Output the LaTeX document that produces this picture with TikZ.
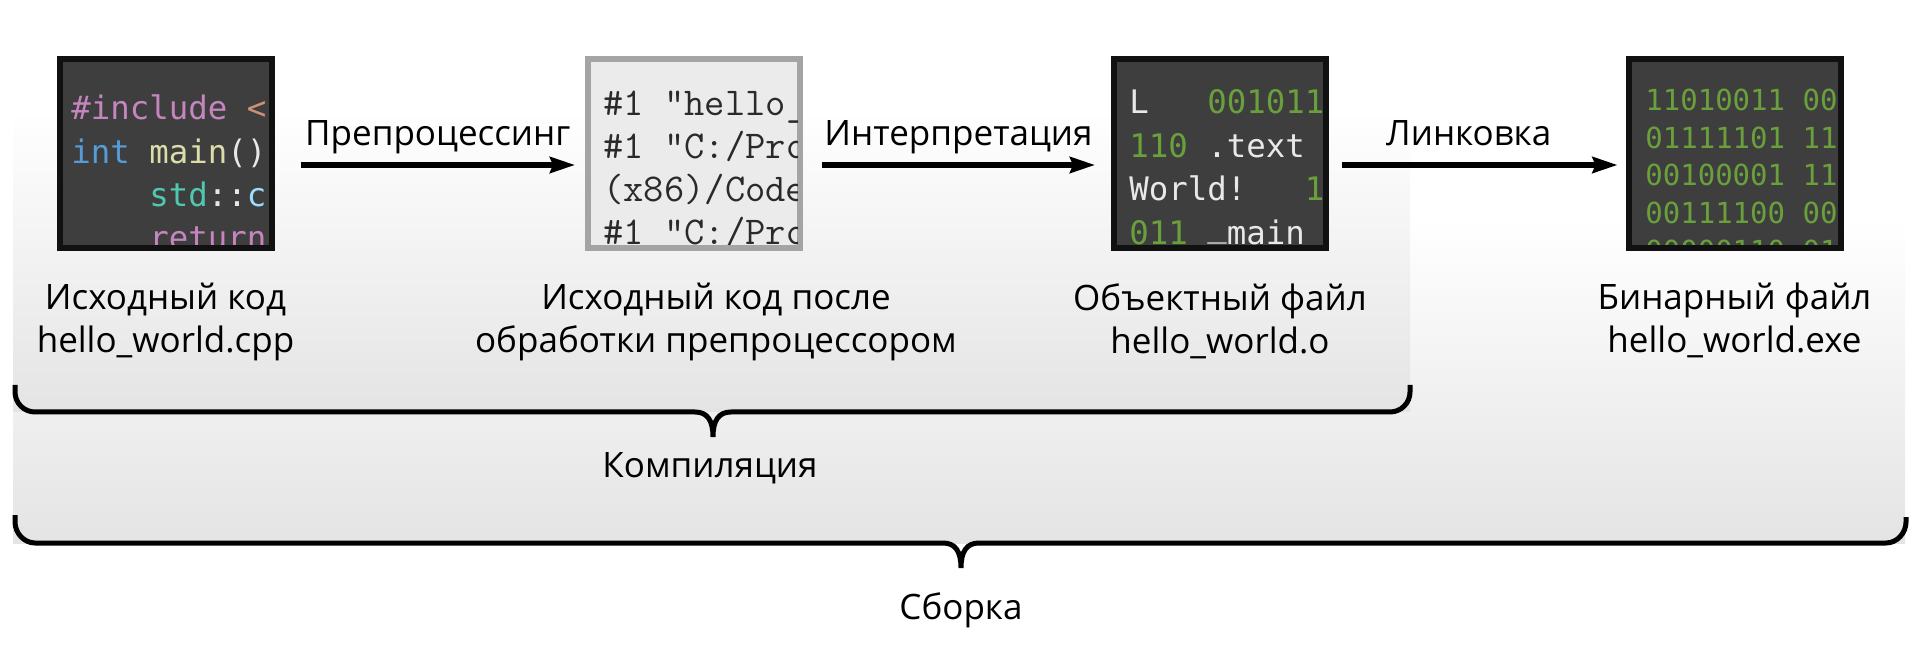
\documentclass[tikz,border=0pt]{standalone}
\usepackage{fontspec}
\setmainfont{Open Sans}
\newfontfamily\codefont{DejaVu Sans Mono}
\usetikzlibrary{positioning,arrows.meta}

\definecolor{boxdark}{HTML}{3E3E3E}
\definecolor{boxrim}{HTML}{111111}
\definecolor{boxlight}{HTML}{EBEBEB}
\definecolor{boxgrey}{HTML}{A4A4A4}
\definecolor{pptext}{HTML}{2A2A2A}
\definecolor{codepurple}{HTML}{C586C0}
\definecolor{codeorange}{HTML}{CE9178}
\definecolor{codeblue}{HTML}{569CD6}
\definecolor{codeyellow}{HTML}{DCDCAA}
\definecolor{codeteal}{HTML}{4EC9B0}
\definecolor{codesky}{HTML}{9CDCFE}
\definecolor{codewhite}{HTML}{E8E8E8}
\definecolor{bitgreen}{HTML}{6AA03C}
\definecolor{regiongrey}{HTML}{E4E4E4}

\begin{document}
\begin{tikzpicture}[x    = 0.5pt,
                    y    = -0.5pt,
                    font = \fontsize{17.5pt}{21.5pt}\selectfont]
% styles
\tikzset{filebox/.style={minimum width=106pt,minimum height=94.5pt,line width=3pt,inner sep=0pt},
         darkbox/.style={filebox,draw=boxrim,fill=boxdark},
         lightbox/.style={filebox,draw=boxgrey,fill=boxlight},
         caption/.style={align=center,inner sep=0pt},
         flowarrow/.style={line width=2.6pt,-{Stealth[length=12.5pt,width=8pt,inset=1.5pt]}},
         steplabel/.style={above=2pt,inner sep=2pt,text height=12.5pt,text depth=4.5pt},
         bracestyle/.style={line width=2.5pt},
         codeline/.style={anchor=base west,inner sep=0pt},
         srccode/.style={codeline,font=\codefont\fontsize{16.2pt}{16pt}\selectfont},
         ppcode/.style={codeline,text=pptext,font=\ttfamily\fontsize{19.7pt}{19pt}\selectfont},
         bitcode/.style={codeline,text=bitgreen,font=\codefont\fontsize{14.5pt}{14pt}\selectfont}}
\useasboundingbox (0,0) rectangle (1920,651);
% shaded areas "build" and "compilation"
\shade[top color=white,bottom color=regiongrey] (13,220) rectangle (1905,543);
\shade[top color=white,bottom color=regiongrey] (13,110) rectangle (1410,412);
% files
\node[darkbox]  (src) at (165.5,153.5) {};
\node[lightbox] (pre) at (694,153.5)   {};
\node[darkbox]  (obj) at (1220,153.5)  {};
\node[darkbox]  (bin) at (1734.5,153.5) {};
% file "source"
\begin{scope}
  \clip ([shift={(3pt,-3pt)}]src.north west) rectangle ([shift={(-3pt,3pt)}]src.south east);
  \node[srccode] (src1) at (71,120) {\color{codepurple}\#include \color{codeorange}<};
  \node[srccode] (src2) at (71,164) {\color{codeblue}int \color{codeyellow}main\color{codewhite}()};
  \node[srccode] (src3) at (71,207) {\ \ \ \ \color{codeteal}std\color{codewhite}::\color{codesky}c};
  \node[srccode] (src4) at (71,250) {\ \ \ \ \color{codepurple}return};
\end{scope}
% file "preprocessed"
\begin{scope}
  \clip ([shift={(3pt,-3pt)}]pre.north west) rectangle ([shift={(-3pt,3pt)}]pre.south east);
  \node[ppcode] (pre1) at (603,116) {\#1 "hello\_};
  \node[ppcode] (pre2) at (603,159) {\#1 "C:/Pro};
  \node[ppcode] (pre3) at (603,202) {(x86)/Code};
  \node[ppcode] (pre4) at (603,245) {\#1 "C:/Pro};
\end{scope}
% file "object"
\begin{scope}
  \clip ([shift={(3pt,-3pt)}]obj.north west) rectangle ([shift={(-3pt,3pt)}]obj.south east);
  \node[srccode] (obj1) at (1129,114)   {\color{codewhite}L\ \ \ \color{bitgreen}001011};
  \node[srccode] (obj2) at (1129,157.5) {\color{bitgreen}110 \color{codewhite}.text};
  \node[srccode] (obj3) at (1129,201)   {\color{codewhite}World!\ \ \ \color{bitgreen}1};
  \node[srccode] (obj4) at (1129,244.5) {\color{bitgreen}011 \color{codewhite}\raisebox{4pt}{\_}main};
\end{scope}
% file "binary"
\begin{scope}
  \clip ([shift={(3pt,-3pt)}]bin.north west) rectangle ([shift={(-3pt,3pt)}]bin.south east);
  \node[bitcode] (bin1) at (1645,110.6) {11010011 00};
  \node[bitcode] (bin2) at (1645,148.3) {01111101 11};
  \node[bitcode] (bin3) at (1645,186)   {00100001 11};
  \node[bitcode] (bin4) at (1645,223.7) {00111100 00};
  \node[bitcode] (bin5) at (1645,261.4) {00000110 01};
\end{scope}
% captions
\node[caption,below=16pt of src] (srccap) {Исходный код\\hello\_world.cpp};
\node[caption,below=16pt of pre,xshift=11pt] (precap) {Исходный код после\\обработки препроцессором};
\node[caption,below=16pt of obj] (objcap) {Объектный файл\\hello\_world.o};
\node[caption,below=16pt of bin] (bincap) {Бинарный файл\\hello\_world.exe};
% steps
\draw[flowarrow] ([xshift=13pt,yshift=-5.75pt]src.east) -- node[steplabel] {Препроцессинг}
                 ([xshift=-5pt,yshift=-5.75pt]pre.west);
\draw[flowarrow] ([xshift=9.5pt,yshift=-5.75pt]pre.east) -- node[steplabel] {Интерпретация}
                 ([xshift=-8pt,yshift=-5.75pt]obj.west);
\draw[flowarrow] ([xshift=6.5pt,yshift=-5.75pt]obj.east) -- node[steplabel,pos=.46] {Линковка}
                 ([xshift=-4pt,yshift=-5.75pt]bin.west);
% brace "compilation"
\draw[bracestyle] (15,385) -- (15,392) .. controls (15,403) and (24,412) .. (35,412)
  -- (695,412) .. controls (707,412) and (713,420) .. (713,437)
  .. controls (713,420) and (719,412) .. (731,412)
  -- (1390,412) .. controls (1401,412) and (1410,403) .. (1410,392) -- (1410,385);
\node[anchor=base] (complabel) at (710,477.5) {Компиляция};
% brace "build"
\draw[bracestyle] (15,515) -- (15,522) .. controls (15,533) and (24,543) .. (35,543)
  -- (943,543) .. controls (955,543) and (961,551) .. (961,568)
  .. controls (961,551) and (967,543) .. (979,543)
  -- (1886,543) .. controls (1897,543) and (1906,533) .. (1906,522) -- (1906,517);
\node[anchor=base] (buildlabel) at (961,619) {Сборка};
\end{tikzpicture}
\end{document}
